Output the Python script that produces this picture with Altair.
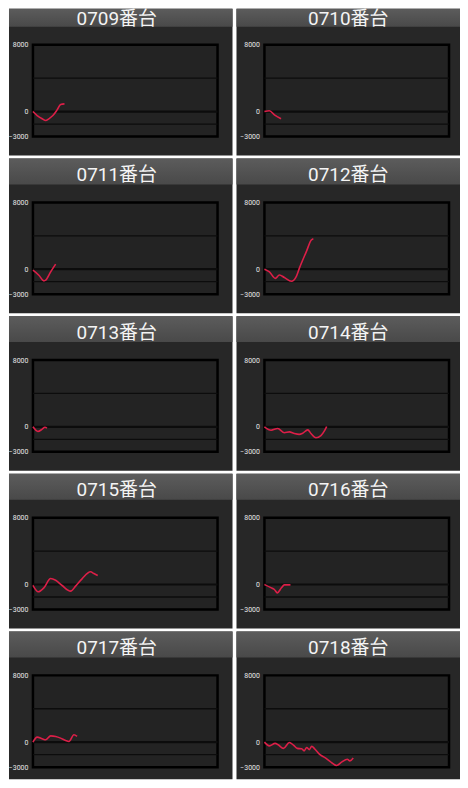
import altair as alt
import pandas as pd

# ---- data ----
machines = ["0709番台", "0710番台", "0711番台", "0712番台", "0713番台",
            "0714番台", "0715番台", "0716番台", "0717番台", "0718番台"]

x_0709 = [0, 2.3, 5.0, 6.9, 8.6, 10.8, 13.1, 15.0, 17.1]
y_0709 = [0, -480, -870, -1080, -870, -480, 200, 840, 920]

x_0710 = [0, 2.7, 5.4, 9.0]
y_0710 = [0, 100, -400, -870]

x_0711 = [0, 3.2, 5.9, 6.9, 9.6, 12.3]
y_0711 = [-120, -720, -1400, -1320, -320, 600]

x_0712 = [0, 2.7, 5.9, 8.1, 10.8, 14.6, 17.3, 18.9, 22.7, 25.4, 26.5]
y_0712 = [0, -330, -1100, -700, -1000, -1450, -850, 100, 2100, 3500, 3650]

x_0713 = [0, 2.7, 4.9, 6.5, 7.6]
y_0713 = [0, -550, -300, -50, -150]

x_0714 = [0, 3.6, 7.2, 10.8, 13.5, 16.2, 18.9, 20.5, 23.5, 25.2, 27.9, 30.6, 32.4, 33.7]
y_0714 = [0, -400, -200, -700, -600, -800, -900, -800, -360, -800, -1300, -1050, -520, 40]

x_0715 = [0, 2.9, 5.9, 9.6, 12.3, 15.8, 20.4, 23.1, 26.6, 31.2, 33.0, 35.1]
y_0715 = [-100, -870, -400, 720, 510, -120, -800, -200, 680, 1520, 1320, 1080]

x_0716 = [0, 3.2, 5.4, 7.0, 9.2, 10.8, 14.1]
y_0716 = [0, -350, -600, -1000, -400, -50, -50]

x_0717 = [0, 2.3, 5.0, 6.9, 9.6, 12.3, 15.0, 17.7, 19.5, 22.2, 23.9]
y_0717 = [0, 600, 400, 280, 750, 680, 480, 200, 80, 880, 680]

x_0718 = [0, 2.7, 5.8, 7.6, 10.3, 13.5, 15.7, 17.8, 20.2, 21.5, 22.9, 24.3, 25.6,
          27.4, 30.1, 32.8, 35.5, 39.1, 41.8, 44.9, 46.3, 48.1]
y_0718 = [0, -450, -150, -350, -750, -50, -350, -750, -800, -1050, -650, -900, -500,
          -850, -1500, -1850, -2300, -2800, -2400, -2050, -2250, -1900]

series = [(x_0709, y_0709), (x_0710, y_0710), (x_0711, y_0711), (x_0712, y_0712),
          (x_0713, y_0713), (x_0714, y_0714), (x_0715, y_0715), (x_0716, y_0716),
          (x_0717, y_0717), (x_0718, y_0718)]

y_domain = [-3000, 8000]
x_domain = [0, 100]
y_labels = [8000, 0, -3000]
grid_values = [4000, 0, -1500]
grid_widths = [1.3, 2.2, 1.3]

# ---- styling ----
W, H = 185, 92
FONT = "Roboto, 'Noto Sans CJK JP', sans-serif"
BODY = "#272727"
PLOT = "#232323"
LINE = "#dc1f48"

header_fill = alt.LinearGradient(
    gradient="linear",
    stops=[alt.GradientStop(color="#5c5c5c", offset=0),
           alt.GradientStop(color="#494949", offset=1)],
    x1=0, x2=0, y1=0, y2=1,
)

yscale = alt.Scale(domain=y_domain, nice=False, zero=False)
yaxis = alt.Axis(values=y_labels, format="d", domain=False, ticks=False, grid=False,
                 labelPadding=5, labelFontSize=7, labelColor="#e8e8e8",
                 labelFont="Roboto", title=None, zindex=2)


def panel(name, xs, ys, col, row):
    left = -24 if col == 0 else -28
    right = 200 if col == 0 else 196
    top = -36 if row == 0 else -44
    bottom = 104 if row == 4 else 111
    title_y = -19.5 if row == 0 else -21.5
    one = pd.DataFrame({"k": [0]})

    bg = alt.Chart(one).mark_rect(fill=BODY).encode(
        x=alt.value(left), x2=alt.value(right), y=alt.value(top), y2=alt.value(bottom))
    head = alt.Chart(one).mark_rect(fill=header_fill).encode(
        x=alt.value(left), x2=alt.value(right), y=alt.value(top), y2=alt.value(-18))
    title = alt.Chart(pd.DataFrame({"name": [name]})).mark_text(
        font=FONT, fontSize=19, color="#f4f4f4", align="center", baseline="alphabetic"
    ).encode(x=alt.value(84), y=alt.value(title_y), text="name:N")
    frame = alt.Chart(one).mark_rect(fill=PLOT, stroke="#000000", strokeWidth=2.5).encode(
        x=alt.value(0), x2=alt.value("width"), y=alt.value(0), y2=alt.value("height"))
    grid = alt.Chart(pd.DataFrame({"v": grid_values, "w": grid_widths})).mark_rule(
        color="#0c0c0c"
    ).encode(
        y=alt.Y("v:Q", scale=yscale, axis=yaxis),
        strokeWidth=alt.StrokeWidth("w:Q", scale=None),
    )
    df = pd.DataFrame({"x": xs, "v": ys})
    line = alt.Chart(df).mark_line(color=LINE, strokeWidth=1.6, interpolate="monotone").encode(
        x=alt.X("x:Q", scale=alt.Scale(domain=x_domain, nice=False, zero=False), axis=None),
        y=alt.Y("v:Q", scale=yscale, axis=yaxis),
    )
    return alt.layer(bg, head, title, frame, grid, line).properties(width=W, height=H)


charts = [panel(machines[i], series[i][0], series[i][1], i % 2, i // 2) for i in range(10)]

chart = alt.concat(
    *charts, columns=2, spacing={"row": 66, "column": 47}, bounds="flush"
).properties(padding=0, background="#ffffff").configure_view(stroke=None)

chart.save("out.html", embed_options={"renderer": "svg", "actions": False})
